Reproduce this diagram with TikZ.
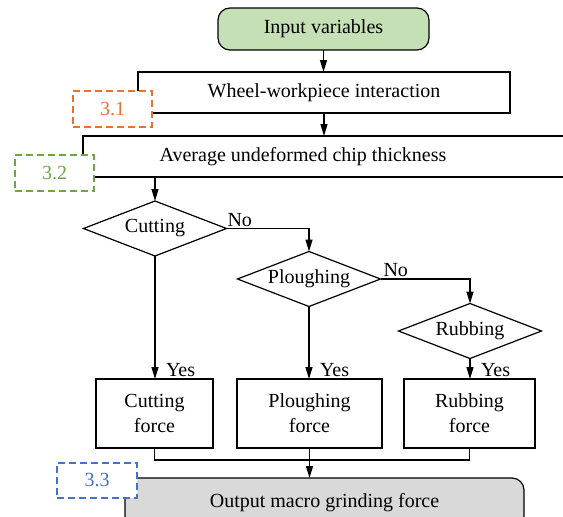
\documentclass[tikz,border=0pt]{standalone}
\usepackage{fontspec}
\setmainfont{Liberation Serif}
\usetikzlibrary{arrows.meta,shapes.geometric}

\definecolor{ingreen}{RGB}{197,224,180}
\definecolor{outgray}{RGB}{217,217,217}
\definecolor{tagorange}{RGB}{226,116,56}
\definecolor{taggreen}{RGB}{112,164,72}
\definecolor{tagblue}{RGB}{68,114,196}

\begin{document}
\begin{tikzpicture}[x=1pt, y=-1pt, line width=1.2pt,
	>={Triangle[length=12pt,width=7pt]},
	every node/.style={font=\fontsize{20}{25}\selectfont, inner sep=0pt, outer sep=0pt},
	box/.style={draw, minimum height=41pt},
	terminal/.style={draw, rounded corners=12pt},
	decision/.style={draw, diamond, aspect=2.6, minimum width=143pt, minimum height=55pt},
	force/.style={draw, minimum height=69pt, align=center},
	tag/.style={draw=#1, text=#1, dash pattern=on 7pt off 4pt, fill=white,
		minimum width=79pt, minimum height=36pt}
]
\clip (0,0) rectangle (563,517);

% main stages
\node[terminal, fill=ingreen, minimum width=211pt, minimum height=42pt] (input) at (323.5,29) {Input variables};
\node[box, minimum width=372pt] (wheel) at (324,92.5) {Wheel-workpiece interaction};
\node[box, minimum width=520pt, anchor=west] (chip) at (83,156.5) {};
\node (chiptext) at (303,156.5) {Average undeformed chip thickness};

% decisions and forces
\foreach \n/\t/\x/\y in {cut/Cutting/155/228.5, plough/Ploughing/309/279, rub/Rubbing/470/331}
	\node[decision] (\n) at (\x,\y) {\t};
\node[force, minimum width=117pt] (cut-f) at (154.5,413.5) {Cutting\\force};
\node[force, minimum width=145pt] (plough-f) at (309.5,413.5) {Ploughing\\force};
\node[force, minimum width=131pt] (rub-f) at (469.5,413.5) {Rubbing\\force};

\node[terminal, fill=outgray, minimum width=399pt, minimum height=50pt] (output) at (324.5,503) {Output macro grinding force};

% section tags
\node[tag=tagorange] (s31) at (112.5,109) {3.1};
\node[tag=taggreen] (s32) at (54.5,173) {3.2};
\node[tag=tagblue, minimum width=80pt, minimum height=35pt] (s33) at (97,480.5) {3.3};

\draw[->] (input.south) -- (input.south |- wheel.north);
\draw[->] (wheel.south) -- (wheel.south |- chip.north);
\draw[->] (cut.north |- chip.south) -- (cut.north);

\draw[->] (cut.east) -| (plough.north) node[pos=0, anchor=south west, xshift=1pt, yshift=2pt] (no1) {No};
\draw[->] (plough.east) -| (rub.north) node[pos=0, anchor=south west, xshift=3pt, yshift=2pt] (no2) {No};

\foreach \n in {cut,plough,rub} {
	\draw[->] (\n.south) -- (\n.south |- \n-f.north);
	\path (\n.south |- \n-f.north) ++(11,-3) node[anchor=base west] (\n-yes) {Yes};
}

\draw (cut-f.south) -- ++(0,12) -| (rub-f.south);
\draw[->] (plough-f.south) -- (plough-f.south |- output.north);
\end{tikzpicture}
\end{document}
